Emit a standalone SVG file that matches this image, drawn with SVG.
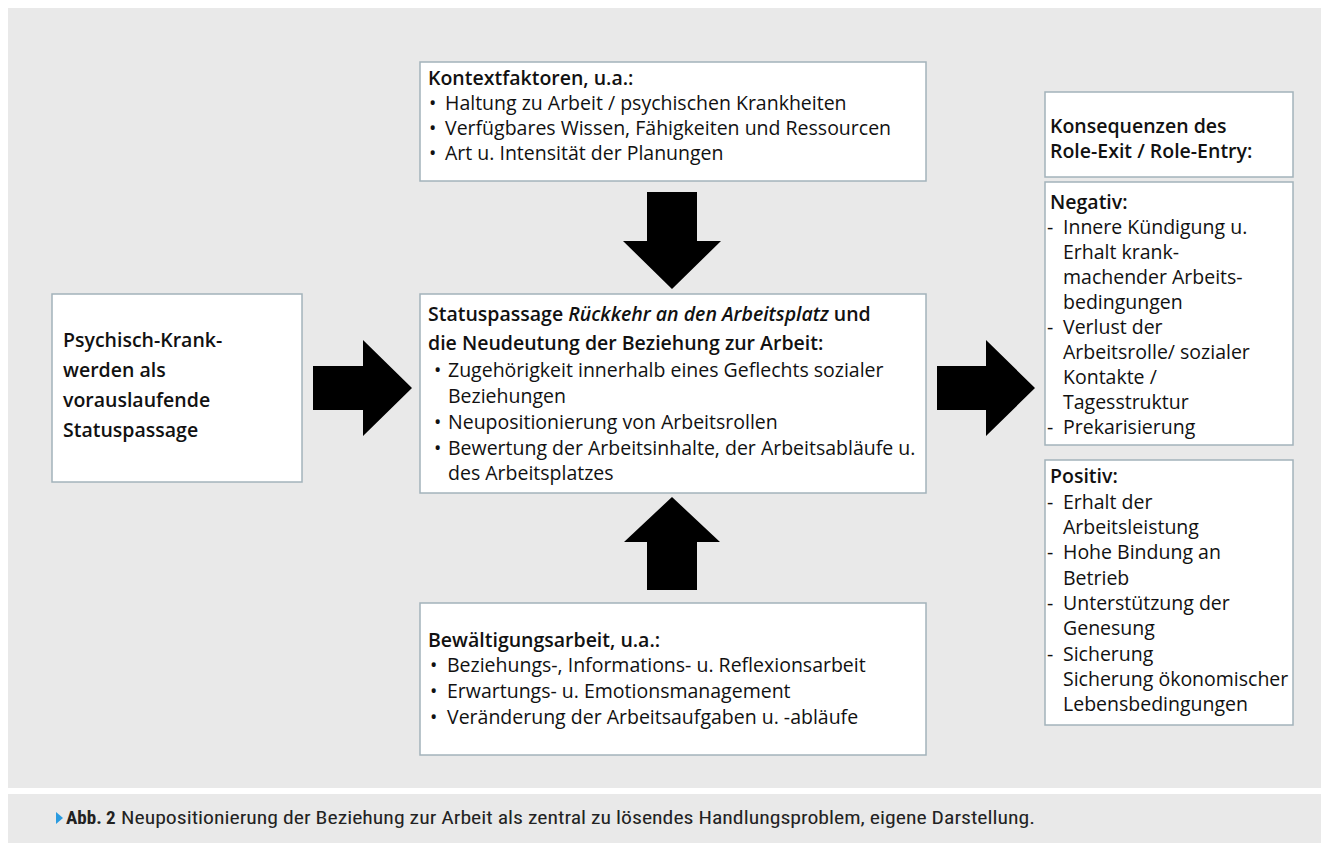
<svg xmlns="http://www.w3.org/2000/svg" width="1321" height="843" viewBox="0 0 1321 843">
<style>
.bg{fill:#ffffff}
.panel{fill:#e9e9e9}
.box{fill:#ffffff;stroke:#a3b3bb;stroke-width:1.5}
.arrow{fill:#000000}
.t{font-family:"Open Sans","Noto Sans","Liberation Sans",sans-serif;font-size:19.5px;fill:#111111}
.h{font-weight:600}
.cap{font-family:"Roboto Condensed","Liberation Sans Narrow","Liberation Sans",sans-serif;font-size:19px;fill:#222222}
</style>
<rect class="bg" x="0" y="0" width="1321" height="843"/>
<rect class="panel" x="8" y="8" width="1313" height="780"/>
<rect class="panel" x="8" y="794" width="1313" height="49"/>

<g id="connectors">
<polygon class="arrow" points="313,366 363,366 363,340 412,388 363,436 363,410 313,410"/>
<polygon class="arrow" points="937,366 986,366 986,340 1035,388 986,436 986,410 937,410"/>
<polygon class="arrow" points="647,192 697,192 697,241 721,241 672,289 623,241 647,241"/>
<polygon class="arrow" points="672,497 720,542 697,542 697,590 647,590 647,542 624,542"/>
</g>

<g id="node-left">
<rect class="box" x="52" y="294" width="250" height="188"/>
<text class="t h" x="63" y="347">Psychisch-Krank-</text>
<text class="t h" x="63" y="377">werden als</text>
<text class="t h" x="63" y="407">vorauslaufende</text>
<text class="t h" x="63" y="437">Statuspassage</text>
</g>

<g id="node-top">
<rect class="box" x="420" y="62" width="506" height="119"/>
<text class="t h" x="428" y="85">Kontextfaktoren, u.a.:</text>
<text class="t" x="429" y="110">•</text><text class="t" x="445" y="110">Haltung zu Arbeit / psychischen Krankheiten</text>
<text class="t" x="429" y="135">•</text><text class="t" x="445" y="135">Verfügbares Wissen, Fähigkeiten und Ressourcen</text>
<text class="t" x="429" y="160">•</text><text class="t" x="445" y="160">Art u. Intensität der Planungen</text>
</g>

<g id="node-center">
<rect class="box" x="420" y="294" width="506" height="199"/>
<text class="t h" x="428" y="321">Statuspassage <tspan font-style="italic">Rückkehr an den Arbeitsplatz</tspan> und</text>
<text class="t h" x="428" y="350">die Neudeutung der Beziehung zur Arbeit:</text>
<text class="t" x="434" y="377">•</text><text class="t" x="448" y="377">Zugehörigkeit innerhalb eines Geflechts sozialer</text>
<text class="t" x="448" y="403">Beziehungen</text>
<text class="t" x="434" y="429">•</text><text class="t" x="448" y="429">Neupositionierung von Arbeitsrollen</text>
<text class="t" x="434" y="455">•</text><text class="t" x="448" y="455">Bewertung der Arbeitsinhalte, der Arbeitsabläufe u.</text>
<text class="t" x="448" y="480">des Arbeitsplatzes</text>
</g>

<g id="node-bottom">
<rect class="box" x="420" y="603" width="506" height="152"/>
<text class="t h" x="428" y="647">Bewältigungsarbeit, u.a.:</text>
<text class="t" x="430" y="672">•</text><text class="t" x="447" y="672">Beziehungs-, Informations- u. Reflexionsarbeit</text>
<text class="t" x="430" y="698">•</text><text class="t" x="447" y="698">Erwartungs- u. Emotionsmanagement</text>
<text class="t" x="430" y="724">•</text><text class="t" x="447" y="724">Veränderung der Arbeitsaufgaben u. -abläufe</text>
</g>

<g id="node-consequences">
<rect class="box" x="1045" y="92" width="248" height="85"/>
<text class="t h" x="1050" y="133">Konsequenzen des</text>
<text class="t h" x="1050" y="158">Role-Exit / Role-Entry:</text>
</g>

<g id="node-negative">
<rect class="box" x="1045" y="182" width="248" height="263"/>
<text class="t h" x="1050" y="209">Negativ:</text>
<text class="t" x="1047" y="234">-</text><text class="t" x="1063" y="234">Innere Kündigung u.</text>
<text class="t" x="1063" y="259">Erhalt krank-</text>
<text class="t" x="1063" y="284">machender Arbeits-</text>
<text class="t" x="1063" y="309">bedingungen</text>
<text class="t" x="1047" y="334">-</text><text class="t" x="1063" y="334">Verlust der</text>
<text class="t" x="1063" y="359">Arbeitsrolle/ sozialer</text>
<text class="t" x="1063" y="384">Kontakte /</text>
<text class="t" x="1063" y="409">Tagesstruktur</text>
<text class="t" x="1047" y="434">-</text><text class="t" x="1063" y="434">Prekarisierung</text>
</g>

<g id="node-positive">
<rect class="box" x="1045" y="460" width="248" height="265"/>
<text class="t h" x="1050" y="483">Positiv:</text>
<text class="t" x="1047" y="509">-</text><text class="t" x="1063" y="509">Erhalt der</text>
<text class="t" x="1063" y="534">Arbeitsleistung</text>
<text class="t" x="1047" y="559">-</text><text class="t" x="1063" y="559">Hohe Bindung an</text>
<text class="t" x="1063" y="585">Betrieb</text>
<text class="t" x="1047" y="610">-</text><text class="t" x="1063" y="610">Unterstützung der</text>
<text class="t" x="1063" y="635">Genesung</text>
<text class="t" x="1047" y="661">-</text><text class="t" x="1063" y="661">Sicherung</text>
<text class="t" x="1063" y="686">Sicherung ökonomischer</text>
<text class="t" x="1063" y="711">Lebensbedingungen</text>
</g>

<g id="caption">
<polygon points="56,812 63,818 56,824" fill="#2a9be0"/>
<text class="cap" x="66" y="824" font-weight="bold">Abb. 2</text>
<text class="cap" x="121" y="824" textLength="914" lengthAdjust="spacingAndGlyphs">Neupositionierung der Beziehung zur Arbeit als zentral zu lösendes Handlungsproblem, eigene Darstellung.</text>
</g>
</svg>
